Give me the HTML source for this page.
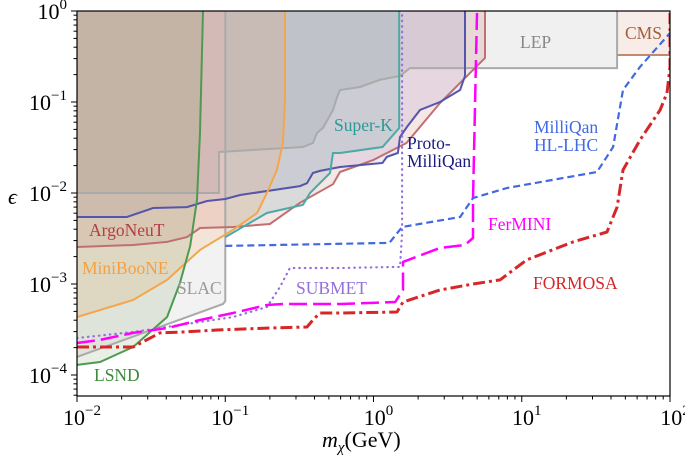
<!DOCTYPE html>
<html><head><meta charset="utf-8"><style>
html,body{margin:0;padding:0;background:#fff;}
svg text{font-family:"Liberation Serif",serif;}
</style></head><body>
<svg id="chart" width="685" height="458" viewBox="0 0 685 458" xmlns="http://www.w3.org/2000/svg">
<defs><clipPath id="plotclip"><rect x="77" y="11" width="593" height="385"/></clipPath></defs>
<g id="fills" clip-path="url(#plotclip)"></g>
<g id="lines" clip-path="url(#plotclip)"></g>
<rect x="77" y="11" width="593" height="385" fill="none" stroke="#000" stroke-width="1.2"/>
<g id="axes"></g>
<g id="labels" font-size="17.5">
<text x="89" y="236" fill="#b04040">ArgoNeuT</text>
<text x="82" y="274" fill="#f5a040">MiniBooNE</text>
<text x="177" y="294" fill="#999">SLAC</text>
<text x="94" y="381" fill="#3a8a3a">LSND</text>
<text x="334" y="131" fill="#2a9a95">Super-K</text>
<text x="407" y="149" fill="#1a1a80">Proto-</text>
<text x="407" y="167" fill="#1a1a80">MilliQan</text>
<text x="534" y="133" fill="#4169e1">MilliQan</text>
<text x="534" y="151" fill="#4169e1">HL-LHC</text>
<text x="488" y="230" fill="#ff00ff">FerMINI</text>
<text x="296" y="294" fill="#9370db">SUBMET</text>
<text x="533" y="289" fill="#d62728">FORMOSA</text>
<text x="520" y="48" fill="#888">LEP</text>
<text x="625" y="39" fill="#a0603a">CMS</text>
</g>
<text x="322" y="447" font-size="22" font-style="italic">m<tspan font-size="15" dy="5">χ</tspan><tspan font-style="normal" dy="-5">(GeV)</tspan></text>
<text x="8" y="204" font-size="22" font-style="italic">ϵ</text>
</svg>
<script>
// ---- data (mass in GeV, epsilon) ----
const lsndM=[0.01,0.0143,0.0239,0.0405,0.0495,0.058,0.0645,0.0676,0.0708];
const lsndE=[1.29e-4,1.39e-4,2.03e-4,4.34e-4,1.03e-3,2.62e-3,8.4e-3,0.0456,1];
const mbM=[0.01,0.0239,0.0405,0.0676,0.113,0.164,0.191,0.223,0.245,0.253,0.253];
const mbE=[4.34e-4,6.67e-4,1.11e-3,2.37e-3,3.94e-3,6.03e-3,0.01,0.0179,0.0354,0.105,1];
const argoM=[0.01,0.0239,0.0405,0.0552,0.0676,0.113,0.2,0.319,0.533,0.594,1.0,1.67,2.81,5.65,5.65];
const argoE=[2.55e-3,2.68e-3,2.9e-3,3.28e-3,4.12e-3,4.23e-3,4.56e-3,7.8e-3,0.0125,0.017,0.0231,0.0354,0.0975,0.305,1];
const protoM=[0.01,0.0217,0.0326,0.0552,0.0753,0.1,0.126,0.319,0.356,0.39,0.435,0.594,1.15,1.23,1.46,1.51,1.68,2.06,2.81,3.84,4.14,4.14];
const protoE=[5.45e-3,5.45e-3,6.84e-3,7.0e-3,8.17e-3,8.6e-3,9.5e-3,0.0119,0.0128,0.0166,0.0175,0.0193,0.0214,0.0249,0.0275,0.0412,0.0531,0.0817,0.1,0.1355,0.193,1];
const skM=[0.1,0.191,0.334,0.373,0.509,0.533,0.594,1.15,1.49,1.49];
const skE=[3.28e-3,6.03e-3,7.4e-3,0.01,0.0166,0.0275,0.0275,0.032,0.0518,1];
const slacM=[0.01,0.0966,0.1,0.1];
const slacE=[1.58e-4,6.03e-4,6.5e-4,1];
const collM=[0.01,0.0906,0.0906,0.334,0.39,0.416,0.456,0.533,0.568,0.594,0.81,1.1,1.51,1.76,44,44];
const collE=[0.01,0.01,0.0282,0.032,0.0354,0.0456,0.0518,0.0817,0.1135,0.1355,0.146,0.175,0.193,0.236,0.236,1];
const cmsM=[44,100];
const cmsE=[0.328,1];
const ferM=[0.01,0.0143,0.0239,0.0405,0.0676,0.113,0.191,0.245,0.594,1.4,1.58,1.58,2.81,4.14,4.69,4.69,4.99];
const ferE=[2.25e-4,2.43e-4,2.9e-4,3.28e-4,4.02e-4,4.8e-4,5.88e-4,6.03e-4,6.03e-4,6.34e-4,8.6e-4,1.75e-3,2.49e-3,2.68e-3,3.2e-3,8.4e-3,0.95];
const subM=[0.01,0.0239,0.0676,0.113,0.191,0.234,0.273,0.594,1.51,1.56,1.56];
const subE=[2.55e-4,2.97e-4,3.82e-4,4.34e-4,5.59e-4,9.3e-4,1.5e-3,1.5e-3,1.54e-3,3.63e-3,0.95];
const mqM=[0.1,1.28,1.56,3.84,4.69,7.95,32.2,41.3,48.2,62.8,100];
const mqE=[2.62e-3,2.83e-3,4.23e-3,5.45e-3,8.8e-3,0.01135,0.017,0.032,0.1355,0.243,0.573];
const forM=[0.01,0.0239,0.0363,0.052,0.088,0.191,0.356,0.39,0.435,0.594,1.44,1.58,2.81,4.69,7.13,10.8,22.2,37.6,44,48.2,62.8,85.7,95.5,100,100];
const forE=[2.03e-4,2.03e-4,2.9e-4,2.97e-4,3.12e-4,3.28e-4,3.37e-4,4.02e-4,4.8e-4,4.8e-4,4.92e-4,6.34e-4,8.6e-4,1.0e-3,1.11e-3,1.84e-3,2.9e-3,3.73e-3,7.0e-3,0.0179,0.0382,0.0817,0.1256,0.243,0.95];
const xTickExp=[-2,-1,0,1,2];
const yTickExp=[0,-1,-2,-3,-4];

// ---- scales ----
const X0=77,X1=670,Y0=11,Y1=396,XMIN=-2,XMAX=2,YMAX=0;
function sx(m){return X0+(Math.log10(m)-XMIN)/(XMAX-XMIN)*(X1-X0);}
function sy(e){return Y0+(YMAX-Math.log10(e))*91;}
const NS='http://www.w3.org/2000/svg';
function pts(M,E){return M.map((m,i)=>sx(m).toFixed(1)+','+sy(E[i]).toFixed(1));}
const fills=document.getElementById('fills'),lines=document.getElementById('lines'),axes=document.getElementById('axes');

function region(M,E,close,fill,stroke,sw,name){
  const p=document.createElementNS(NS,'polygon');
  p.setAttribute('points',pts(M,E).concat(close).join(' '));
  p.setAttribute('fill',fill);p.setAttribute('stroke','none');
  
  
  fills.appendChild(p);
  if(stroke){const l=document.createElementNS(NS,'polyline');
    l.setAttribute('points',pts(M,E).join(' '));l.setAttribute('fill','none');
    l.setAttribute('stroke',stroke);l.setAttribute('stroke-width',sw);
    
    
    lines.appendChild(l);}
}
const TL=sx(0.01)+','+sy(1);
region(collM,collE,[TL],'rgba(128,128,128,0.12)','#aaaaaa',2,'collider-region');
region(slacM,slacE,[TL],'rgba(128,128,128,0.10)','#aaaaaa',2,'slac-region');
region(argoM,argoE,[TL],'rgba(180,60,60,0.12)','#c07070',2,'argoneut-region');
region(protoM,protoE,[TL],'rgba(90,80,170,0.11)','#5555aa',2,'proto-milliqan-region');
region(skM,skE,[sx(0.1)+','+sy(1)],'rgba(60,150,150,0.15)','#4aaaa5',2,'super-k-region');
region(mbM,mbE,[TL],'rgba(245,150,60,0.14)','#f5a64a',2,'miniboone-region');
region(lsndM,lsndE,[TL],'rgba(110,150,80,0.15)','#4e9a4e',2,'lsnd-region');
// CMS box
(function(){const r=document.createElementNS(NS,'rect');
 r.setAttribute('x',sx(cmsM[0]));r.setAttribute('y',sy(cmsE[1]));
 r.setAttribute('width',sx(cmsM[1])-sx(cmsM[0]));r.setAttribute('height',sy(cmsE[0])-sy(cmsE[1]));
 r.setAttribute('fill','rgba(200,130,100,0.15)');
 
 
 fills.appendChild(r);
 const l=document.createElementNS(NS,'line');
 l.setAttribute('x1',sx(cmsM[0]));l.setAttribute('x2',sx(cmsM[1]));l.setAttribute('y1',sy(cmsE[0]));l.setAttribute('y2',sy(cmsE[0]));
 l.setAttribute('stroke','#c08a70');l.setAttribute('stroke-width',2);
 
 
 lines.appendChild(l);})();

function curve(M,E,color,w,dash,name,cap){
  const l=document.createElementNS(NS,'polyline');
  l.setAttribute('points',pts(M,E).join(' '));l.setAttribute('fill','none');
  l.setAttribute('stroke',color);l.setAttribute('stroke-width',w);
  l.setAttribute('stroke-dasharray',dash);l.setAttribute('stroke-linejoin','round');
  if(cap)l.setAttribute('stroke-linecap',cap);
  
  
  lines.appendChild(l);
}
curve(subM,subE,'#9370db',2.2,'0.5 5','submet-curve','round');
curve(mqM,mqE,'#4169e1',2.2,'7 4','milliqan-hl-lhc-curve');
curve(ferM,ferE,'#ff00ff',2.5,'18 6','fermini-curve');
curve(forM,forE,'#d62728',3,'12 4 3 4','formosa-curve');

// ---- axes ----
function ln(x1,y1,x2,y2,name){const l=document.createElementNS(NS,'line');
 l.setAttribute('x1',x1);l.setAttribute('y1',y1);l.setAttribute('x2',x2);l.setAttribute('y2',y2);
 l.setAttribute('stroke','#000');l.setAttribute('stroke-width',1);
 
 
 axes.appendChild(l);}
function lbl(x,y,exp,anchor,name){const t=document.createElementNS(NS,'text');
 t.setAttribute('x',x);t.setAttribute('y',y);t.setAttribute('font-size','22');t.setAttribute('text-anchor',anchor);
 t.innerHTML='10<tspan font-size="15" dy="-10">'+(exp<0?'\u2212'+(-exp):exp)+'</tspan>';
 
 
 axes.appendChild(t);}
xTickExp.forEach(e=>{const x=sx(Math.pow(10,e));ln(x,Y1,x,Y1+6,'x-major-tick');lbl(x+5,425,e,'middle','x-tick-label');
 if(e<XMAX)for(let k=2;k<10;k++){const xm=sx(k*Math.pow(10,e));ln(xm,Y1,xm,Y1+3.5,'x-minor-tick');}});
yTickExp.forEach(e=>{const y=sy(Math.pow(10,e));ln(X0-6,y,X0,y,'y-major-tick');lbl(67,y+8,e,'end','y-tick-label');
 for(let k=2;k<10;k++){const v=k*Math.pow(10,e-1);const ym=sy(v);if(ym<=Y1&&ym>=Y0)ln(X0-3.5,ym,X0,ym,'y-minor-tick');}});
</script>
</body></html>
